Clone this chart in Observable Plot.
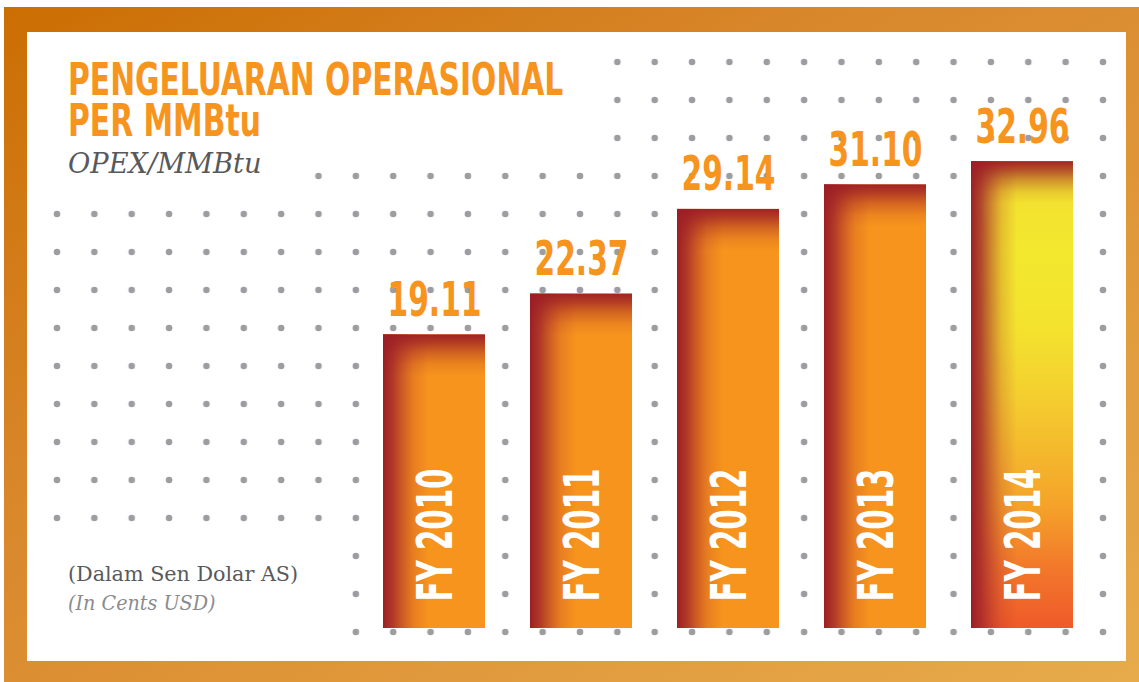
<!DOCTYPE html>
<html>
<head>
<meta charset="utf-8">
<script src="https://cdn.jsdelivr.net/npm/d3@7"></script>
<script src="https://cdn.jsdelivr.net/npm/@observablehq/plot@0.6"></script>
<style>
  html, body { margin: 0; padding: 0; background: #fff; }
  #wrap { position: relative; width: 1139px; height: 682px; overflow: hidden; }
  #bg, #chart { position: absolute; left: 0; top: 0; }
  .cond { font-family: "Liberation Sans Narrow", "Arial Narrow", "DejaVu Sans Condensed", sans-serif; font-weight: bold; font-stretch: condensed; }
  .slab { font-family: "DejaVu Serif", serif; font-stretch: condensed; }
  .fit { position: absolute; left: 68px; white-space: nowrap; transform-origin: 0 0; }
  #title { top: 59px; color: #f7941d; font-size: 45px; line-height: 41px; }
  #title span { display: block; height: 41px; }
  #subtitle { top: 146px; color: #58595b; font-size: 27px; line-height: 36px; font-style: italic; }
  #note1 { top: 560px; color: #58595b; font-size: 20px; line-height: 28px; }
  #note2 { top: 589px; color: #8a8b8e; font-size: 20px; line-height: 28px; font-style: italic; }
</style>
</head>
<body>
<div id="wrap">
  <svg id="bg" width="1139" height="682" xmlns="http://www.w3.org/2000/svg">
    <defs>
      <linearGradient id="frameG" x1="0" y1="0" x2="1" y2="1">
        <stop offset="0" stop-color="#cb6e02"/>
        <stop offset="0.35" stop-color="#d8862a"/>
        <stop offset="1" stop-color="#e7ab4c"/>
      </linearGradient>
      <pattern id="dots" patternUnits="userSpaceOnUse" x="38.32" y="43" width="37.357" height="38">
        <circle cx="18.68" cy="19" r="3.3" fill="#9c9da1"/>
      </pattern>
      <linearGradient id="leftFade" x1="0" y1="0" x2="1" y2="0">
        <stop offset="0" stop-color="#9a1b25" stop-opacity="0.97"/>
        <stop offset="0.1" stop-color="#a0232a" stop-opacity="0.8"/>
        <stop offset="0.2" stop-color="#a8292b" stop-opacity="0.5"/>
        <stop offset="0.3" stop-color="#b0302c" stop-opacity="0.22"/>
        <stop offset="0.45" stop-color="#b0302c" stop-opacity="0"/>
      </linearGradient>
      <linearGradient id="g2014" x1="0" y1="0" x2="0" y2="1">
        <stop offset="0" stop-color="#f2dd30"/>
        <stop offset="0.2" stop-color="#f3e82e"/>
        <stop offset="0.36" stop-color="#f3e22e"/>
        <stop offset="0.5" stop-color="#f4cf2f"/>
        <stop offset="0.62" stop-color="#f4b92d"/>
        <stop offset="0.74" stop-color="#f5a22a"/>
        <stop offset="0.87" stop-color="#f2782b"/>
        <stop offset="1" stop-color="#ef5a29"/>
      </linearGradient>
    </defs>
    <rect x="4" y="7" width="1135" height="675" fill="url(#frameG)"/>
    <rect x="27" y="32" width="1099" height="629" fill="#ffffff"/>
    <path id="dotArea" fill="url(#dots)"/>
  </svg>
  <div id="chart"></div>
  <div id="title" class="fit cond"><span>PENGELUARAN OPERASIONAL</span><span>PER MMBtu</span></div>
  <div id="subtitle" class="fit slab">OPEX/MMBtu</div>
  <div id="note1" class="fit slab">(Dalam Sen Dolar AS)</div>
  <div id="note2" class="fit slab">(In Cents USD)</div>
</div>
<script>
// ---- data ----
const years = ["FY 2010", "FY 2011", "FY 2012", "FY 2013", "FY 2014"];
const values = [19.11, 22.37, 29.14, 31.10, 32.96];
const highlightYear = "FY 2014";

const data = years.map((year, i) => ({year, value: values[i]}));

// ---- decorative dotted background regions ----
const dotRegions = [
  [598.3, 43, 1121.7, 157],
  [299.8, 157, 1121.7, 195],
  [38.3, 195, 1121.7, 537],
  [337.2, 537, 1121.7, 651]
];
document.getElementById("dotArea").setAttribute("d",
  dotRegions.map(([x0, y0, x1, y1]) => `M${x0},${y0}H${x1}V${y1}H${x0}Z`).join(""));

// ---- chart ----
const yMin = -4.36, yMax = 36, pxPerUnit = 12.51, baseY = 628;
const condFont = '"Liberation Sans Narrow", "Arial Narrow", "DejaVu Sans Condensed", sans-serif';

const chart = Plot.plot({
  width: 1139,
  height: 682,
  margin: 0,
  style: {background: "transparent"},
  x: {domain: years, range: [358.6, 1097.4], paddingInner: 0.303, paddingOuter: 0.1515, axis: null},
  y: {domain: [yMin, yMax], range: [baseY, baseY - (yMax - yMin) * pxPerUnit], axis: null},
  marks: [
    Plot.barY(data, {filter: d => d.year !== highlightYear, x: "year", y1: yMin, y2: "value", fill: "#f7941d"}),
    Plot.barY(data, {filter: d => d.year === highlightYear, x: "year", y1: yMin, y2: "value", fill: "url(#g2014)"}),
    Plot.barY(data, {x: "year", y1: yMin, y2: "value", fill: "url(#leftFade)"}),
    Plot.barY(data, {x: "year", y1: yMin, y2: "value", fill: "url(#topFade)"}),
    Plot.text(data, {
      x: "year", y: "value", text: d => d3.format(".2f")(d.value),
      dy: -19, lineAnchor: "bottom", fill: "#f7941d",
      fontSize: 48, fontWeight: "bold", fontFamily: condFont
    }),
    Plot.text(data, {
      x: "year", y: yMin, text: "year", rotate: -90,
      textAnchor: "start", lineAnchor: "middle", dy: -27, dx: 2,
      fill: "#ffffff", fontSize: 49, fontWeight: "bold", fontFamily: condFont
    })
  ]
});
document.getElementById("chart").appendChild(chart);

// per-bar top fade gradients (fixed pixel depth)
const defs = d3.select("#bg defs");
d3.select(chart).selectAll('g[fill="url(#topFade)"] rect').each(function(_, i) {
  const top = +this.getAttribute("y");
  const id = "topFade" + i;
  const g = defs.append("linearGradient").attr("id", id)
    .attr("gradientUnits", "userSpaceOnUse")
    .attr("x1", 0).attr("x2", 0).attr("y1", top).attr("y2", top + 42);
  [[0, 0.96], [0.2, 0.74], [0.45, 0.4], [0.72, 0.13], [1, 0]].forEach(([o, a]) =>
    g.append("stop").attr("offset", o).attr("stop-color", "#9c1e26").attr("stop-opacity", a));
  this.setAttribute("fill", `url(#${id})`);
});

// condense SVG labels to the reference's narrow type (scale about each anchor)
chart.querySelectorAll("text").forEach(t => {
  const s = t.textContent.trim();
  if (!s) return;
  const target = s.startsWith("FY") ? 133 : 94;
  const len = t.getComputedTextLength();
  if (!len) return;
  const k = target / len;
  const num = v => v != null && /^-?[\d.]+$/.test(v) ? +v : null;
  const x = num(t.getAttribute("x")), y = num(t.getAttribute("y"));
  let tf = t.getAttribute("transform") || "";
  if (x != null || y != null) {
    tf += ` translate(${x || 0},${y || 0})`;
    if (x != null) t.setAttribute("x", 0);
    if (y != null) t.setAttribute("y", 0);
  }
  t.setAttribute("transform", `${tf} scale(${k},1)`.trim());
});

// fit HTML text blocks to the reference widths
function fit(id, target) {
  const el = document.getElementById(id);
  const w = el.scrollWidth;
  el.style.transform = `scaleX(${target / w})`;
}
fit("title", 495);
fit("subtitle", 194);
fit("note1", 230);
fit("note2", 148);
</script>
</body>
</html>
